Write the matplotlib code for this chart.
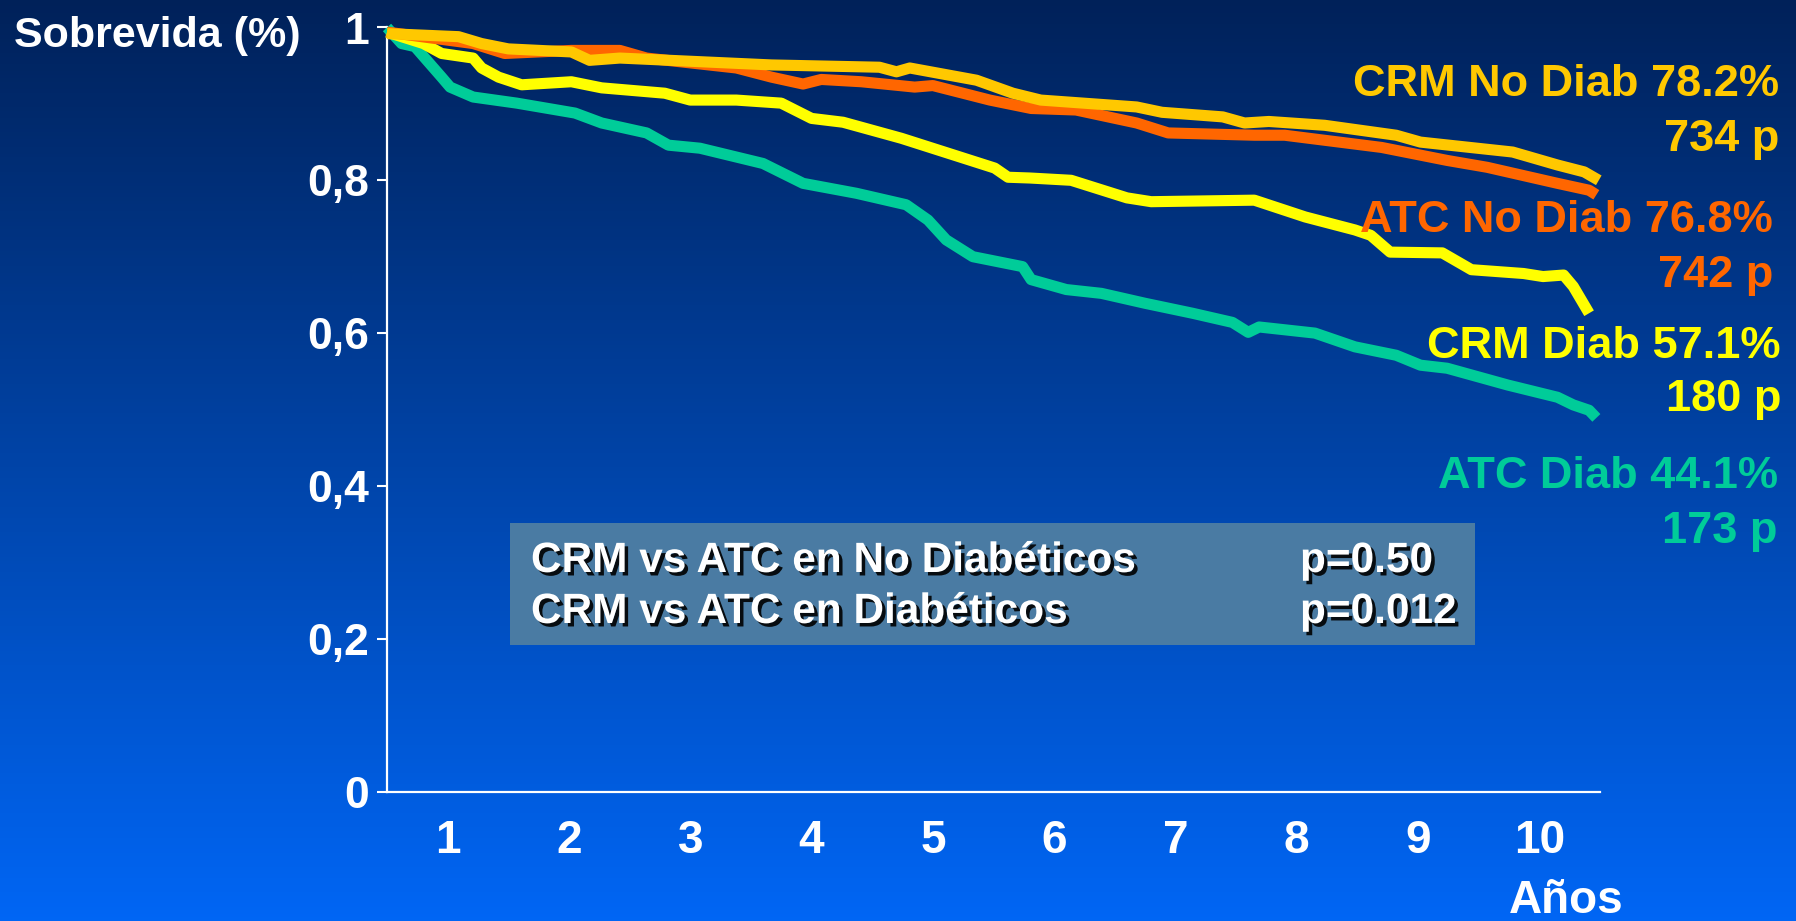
import matplotlib
matplotlib.use("Agg")
import matplotlib.pyplot as plt
import matplotlib.patheffects as pe
import numpy as np

W, H = 1796, 921

# ---- data ----
atc_diab_x = [0.5, 0.62, 0.73, 0.84, 0.95, 1.02, 1.21, 1.57, 2.05, 2.27, 2.64, 2.82, 3.08, 3.6, 3.93,
              4.37, 4.78, 4.96, 5.11, 5.33, 5.74, 5.81, 6.1, 6.39, 6.75, 7.14, 7.47, 7.6, 7.69, 8.15,
              8.48, 8.82, 9.02, 9.24, 9.74, 10.15, 10.28, 10.41, 10.47]
atc_diab_y = [1.0, 0.979, 0.975, 0.955, 0.935, 0.922, 0.909, 0.901, 0.888, 0.875, 0.862, 0.846, 0.842,
              0.822, 0.796, 0.783, 0.768, 0.748, 0.722, 0.70, 0.687, 0.670, 0.657, 0.652, 0.639, 0.626,
              0.614, 0.601, 0.608, 0.600, 0.582, 0.571, 0.558, 0.554, 0.532, 0.516, 0.506, 0.499, 0.489]

crm_diab_x = [0.5, 0.8, 0.95, 1.21, 1.28, 1.42, 1.61, 2.02, 2.27, 2.79, 3.0, 3.38, 3.75, 4.0, 4.26,
              4.74, 5.51, 5.62, 5.8, 6.14, 6.6, 6.8, 7.65, 8.07, 8.48, 8.61, 8.77, 9.2, 9.44, 9.87,
              10.03, 10.2, 10.28, 10.41]
crm_diab_y = [0.994, 0.979, 0.966, 0.960, 0.947, 0.935, 0.925, 0.929, 0.921, 0.914, 0.905, 0.905,
              0.901, 0.881, 0.876, 0.855, 0.816, 0.804, 0.803, 0.800, 0.777, 0.772, 0.774, 0.752,
              0.735, 0.728, 0.706, 0.705, 0.683, 0.678, 0.674, 0.676, 0.661, 0.626]

atc_nodiab_x = [0.5, 1.21, 1.47, 2.02, 2.42, 2.64, 3.38, 3.67, 3.93, 4.08, 4.41, 4.85, 5.0, 5.47,
                5.81, 6.18, 6.68, 6.94, 7.65, 7.9, 8.7, 9.24, 9.57, 10.15, 10.41, 10.47]
atc_nodiab_y = [0.994, 0.979, 0.966, 0.970, 0.970, 0.960, 0.947, 0.935, 0.926, 0.932, 0.929, 0.922,
                0.924, 0.905, 0.894, 0.892, 0.875, 0.862, 0.859, 0.859, 0.843, 0.826, 0.817, 0.796,
                0.787, 0.781]

crm_nodiab_x = [0.5, 1.09, 1.28, 1.5, 2.02, 2.17, 2.42, 3.67, 4.56, 4.7, 4.81, 5.36, 5.66, 5.89,
                6.68, 6.89, 7.39, 7.57, 7.77, 8.23, 8.82, 9.02, 9.78, 10.15, 10.37, 10.49]
crm_nodiab_y = [0.992, 0.988, 0.979, 0.972, 0.968, 0.957, 0.960, 0.951, 0.948, 0.942, 0.947, 0.931,
                0.914, 0.905, 0.896, 0.889, 0.883, 0.875, 0.877, 0.872, 0.859, 0.850, 0.837, 0.820,
                0.811, 0.800]

y_ticks = [0, 0.2, 0.4, 0.6, 0.8, 1.0]
y_tick_labels = ["0", "0,2", "0,4", "0,6", "0,8", "1"]
x_ticks = [1, 2, 3, 4, 5, 6, 7, 8, 9, 10]
x_tick_labels = ["1", "2", "3", "4", "5", "6", "7", "8", "9", "10"]

series_labels = ["CRM No Diab 78.2%", "ATC No Diab 76.8%", "CRM Diab 57.1%", "ATC Diab 44.1%"]
series_counts = ["734 p", "742 p", "180 p", "173 p"]
comparisons = ["CRM vs ATC en No Diabéticos", "CRM vs ATC en Diabéticos"]
p_values = ["p=0.50", "p=0.012"]

# ---- styles ----
c_gold = "#FFC800"
c_orange = "#FF6600"
c_yellow = "#FFFF00"
c_teal = "#00CC99"
font = ["Liberation Sans", "DejaVu Sans"]

fig = plt.figure(figsize=(W / 100, H / 100), dpi=100)

# gradient background
bg = fig.add_axes([0, 0, 1, 1], zorder=-10)
top = np.array([0.0, 0.13, 0.35])
bot = np.array([0.0, 0.40, 0.96])
t = np.linspace(0, 1, 256)[:, None]
grad = (top[None, :] * (1 - t) + bot[None, :] * t)[:, None, :]
bg.imshow(grad, aspect="auto", extent=[0, 1, 0, 1], origin="upper")
bg.set_axis_off()

def fx(px):
    return px / W

def fy(py):
    return 1 - py / H

ax = fig.add_axes([fx(387), fy(791.5), (1600 - 387) / W, (791.5 - 27.5) / H])
ax.set_facecolor("none")
ax.set_xlim(0.5, 10.5)
ax.set_ylim(0, 1)
for s in ["top", "right"]:
    ax.spines[s].set_visible(False)
for s in ["left", "bottom"]:
    ax.spines[s].set_color("white")
    ax.spines[s].set_linewidth(1.6)

ax.set_yticks(y_ticks)
ax.set_yticklabels(y_tick_labels, fontfamily=font, fontweight="bold", fontsize=32, color="white")
ax.tick_params(axis="y", colors="white", length=7, width=1.5, pad=6, labelcolor="white")
ax.set_xticks(x_ticks)
ax.set_xticklabels(x_tick_labels, fontfamily=font, fontweight="bold", fontsize=33, color="white")
ax.tick_params(axis="x", length=0, pad=20, labelcolor="white")

lw = 8
kw = dict(linewidth=lw, solid_joinstyle="round", solid_capstyle="butt", clip_on=False)
ax.plot(atc_diab_x, atc_diab_y, color=c_teal, zorder=3, **kw)
ax.plot(crm_diab_x, crm_diab_y, color=c_yellow, zorder=4, **kw)
ax.plot(atc_nodiab_x, atc_nodiab_y, color=c_orange, zorder=5, **kw)
ax.plot(crm_nodiab_x, crm_nodiab_y, color=c_gold, zorder=6, **kw)

# y-axis title
fig.text(fx(14), fy(36), "Sobrevida (%)", fontfamily=font, fontweight="bold", fontsize=31,
         color="white", ha="left", va="center")
# x-axis title
fig.text(fx(1566), fy(901), "Años", fontfamily=font, fontweight="bold", fontsize=33,
         color="white", ha="center", va="center")

# right-hand labels
label_colors = [c_gold, c_orange, c_yellow, c_teal]
label_y = [85, 221, 346, 476]
count_y = [139, 275, 400, 531]
right_x = [1779, 1773, 1781, 1778]
for lab, cnt, col, ly, cy, rx in zip(series_labels, series_counts, label_colors, label_y, count_y, right_x):
    fig.text(fx(rx), fy(ly), lab, fontfamily=font, fontweight="bold", fontsize=32.5,
             color=col, ha="right", va="center")
    fig.text(fx(rx), fy(cy), cnt, fontfamily=font, fontweight="bold", fontsize=32.5,
             color=col, ha="right", va="center")

# comparison box
box = plt.Rectangle((fx(510), fy(645)), (1475 - 510) / W, (645 - 523) / H,
                    transform=fig.transFigure, facecolor="#4A7BA3", edgecolor="none", zorder=8)
fig.patches.append(box)
shadow = [pe.SimplePatchShadow(offset=(2.5, -2.5), shadow_rgbFace="black", alpha=0.9), pe.Normal()]
for i, (cmp_txt, pv) in enumerate(zip(comparisons, p_values)):
    yy = [561, 612][i]
    fig.text(fx(531), fy(yy), cmp_txt, fontfamily=font, fontweight="bold", fontsize=30.5,
             color="white", ha="left", va="center", zorder=9, path_effects=shadow)
    fig.text(fx(1300), fy(yy), pv, fontfamily=font, fontweight="bold", fontsize=30.5,
             color="white", ha="left", va="center", zorder=9, path_effects=shadow)

fig.savefig("out.png", dpi=100)
